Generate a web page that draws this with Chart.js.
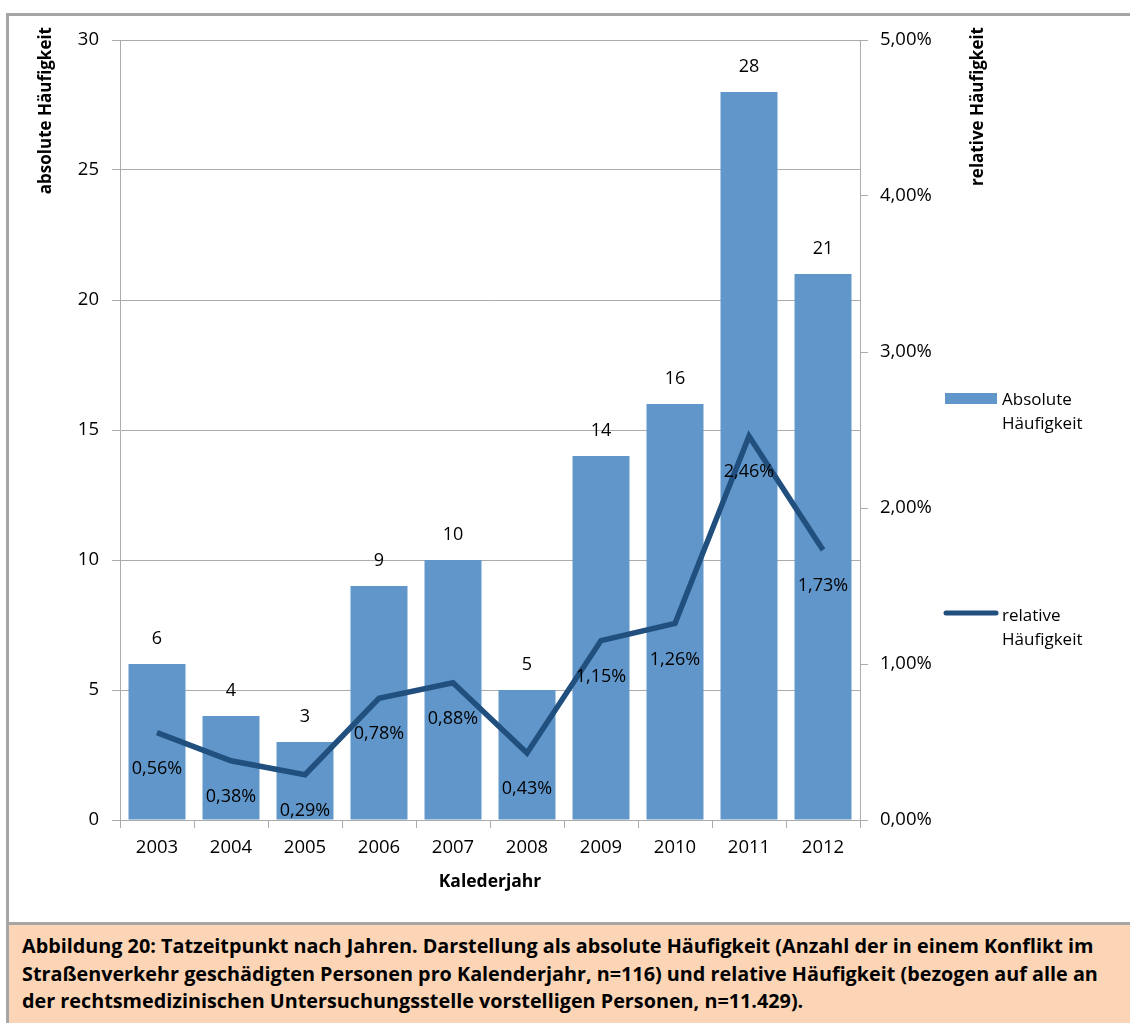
<!DOCTYPE html>
<html lang="de">
<head>
<meta charset="utf-8">
<title>Tatzeitpunkt nach Jahren</title>
<script src="https://cdn.jsdelivr.net/npm/chart.js@4/dist/chart.umd.min.js"></script>
<style>
    body { margin: 0; background: #fff; }
    #rahmen { position: relative; width: 1130px; height: 1023px; overflow: hidden; font-family: "Open Sans", sans-serif; }
    #grafik { position: absolute; left: 0; top: 0; }
    .linie { position: absolute; background: #a6a6a6; }
    #beschriftung {
        position: absolute; left: 9px; top: 925px; width: 1121px; height: 98px;
        background: #fbd5b5; box-sizing: border-box; padding: 7px 0 0 13px;
        font-weight: bold; font-size: 19.8px; line-height: 27.5px; color: #000; white-space: nowrap;
    }
</style>
</head>
<body>
<div id="rahmen">
    <canvas id="grafik" width="1130" height="922"></canvas>
    <div class="linie" style="left:6px; top:13px; width:1124px; height:3px;"></div>
    <div class="linie" style="left:6px; top:13px; width:3px; height:1010px;"></div>
    <div class="linie" style="left:6px; top:922px; width:1124px; height:3px;"></div>
    <div id="beschriftung">
        Abbildung 20: Tatzeitpunkt nach Jahren. Darstellung als absolute Häufigkeit (Anzahl der in einem Konflikt im<br>
        Straßenverkehr geschädigten Personen pro Kalenderjahr, n=116) und relative Häufigkeit (bezogen auf alle an<br>
        der rechtsmedizinischen Untersuchungsstelle vorstelligen Personen, n=11.429).
    </div>
</div>
<script>
// Daten
const jahre = ['2003', '2004', '2005', '2006', '2007', '2008', '2009', '2010', '2011', '2012'];
const absoluteHaeufigkeit = [6, 4, 3, 9, 10, 5, 14, 16, 28, 21];
const relativeHaeufigkeit = [0.56, 0.38, 0.29, 0.78, 0.88, 0.43, 1.15, 1.26, 2.46, 1.73]; // in Prozent
const achsenTitel = ['absolute Häufigkeit', 'relative Häufigkeit', 'Kalederjahr'];
const legendenText = [['Absolute', 'Häufigkeit'], ['relative', 'Häufigkeit']];

const FARBE_BALKEN = '#6096ca';
const FARBE_LINIE = '#214f7e';
const FARBE_GITTER = '#ababab';
const SCHRIFT = '"Open Sans", sans-serif';

function prozent(wert) {
    return wert.toFixed(2).replace('.', ',') + '%';
}

// Werte über den Balken bzw. unter den Linienpunkten
const wertePlugin = {
    id: 'werte',
    afterDatasetsDraw(chart) {
        const ctx = chart.ctx;
        ctx.save();
        ctx.fillStyle = '#000';
        ctx.font = '18px ' + SCHRIFT;
        ctx.textAlign = 'center';
        ctx.textBaseline = 'middle';
        chart.getDatasetMeta(0).data.forEach((el, i) => {
            ctx.fillText(String(absoluteHaeufigkeit[i]), el.x, el.y - 25);
        });
        chart.getDatasetMeta(1).data.forEach((el, i) => {
            ctx.fillText(prozent(relativeHaeufigkeit[i]), el.x, el.y + 36);
        });
        ctx.restore();
    }
};

// Senkrechte Achsentitel (beide von unten nach oben) und Legende rechts
const beiwerkPlugin = {
    id: 'beiwerk',
    afterDraw(chart) {
        const ctx = chart.ctx;
        ctx.save();
        ctx.fillStyle = '#000';
        ctx.font = 'bold 17px ' + SCHRIFT;
        ctx.textAlign = 'right';
        ctx.textBaseline = 'middle';
        [[46, achsenTitel[0]], [978, achsenTitel[1]]].forEach(([x, text]) => {
            ctx.save();
            ctx.translate(x, 27);
            ctx.rotate(-Math.PI / 2);
            ctx.fillText(text, 0, 0);
            ctx.restore();
        });

        // Legende
        ctx.fillStyle = FARBE_BALKEN;
        ctx.fillRect(945, 393, 52, 11);
        ctx.strokeStyle = FARBE_LINIE;
        ctx.lineWidth = 5;
        ctx.lineCap = 'round';
        ctx.beginPath();
        ctx.moveTo(946, 613);
        ctx.lineTo(996, 613);
        ctx.stroke();

        ctx.fillStyle = '#000';
        ctx.font = '17px ' + SCHRIFT;
        ctx.textAlign = 'left';
        ctx.fillText(legendenText[0][0], 1002, 400);
        ctx.fillText(legendenText[0][1], 1002, 424);
        ctx.fillText(legendenText[1][0], 1002, 616);
        ctx.fillText(legendenText[1][1], 1002, 640);
        ctx.restore();
    }
};

function zeichneDiagramm() {
    const ctx = document.getElementById('grafik').getContext('2d');

    new Chart(ctx, {
        type: 'bar',
        data: {
            labels: jahre,
            datasets: [
                {
                    label: 'Absolute Häufigkeit',
                    data: absoluteHaeufigkeit,
                    backgroundColor: FARBE_BALKEN,
                    borderWidth: 0,
                    barPercentage: 0.77,
                    categoryPercentage: 1,
                    yAxisID: 'y',
                    order: 1
                },
                {
                    type: 'line',
                    label: 'relative Häufigkeit',
                    data: relativeHaeufigkeit,
                    borderColor: FARBE_LINIE,
                    borderWidth: 5.5,
                    pointRadius: 0,
                    tension: 0,
                    yAxisID: 'y1',
                    order: 0
                }
            ]
        },
        options: {
            responsive: false,
            animation: false,
            layout: {
                padding: { left: 70, right: 170, top: 40, bottom: 22 }
            },
            plugins: {
                legend: { display: false },
                tooltip: { enabled: false }
            },
            scales: {
                x: {
                    afterFit: (scale) => { scale.height = 80; },
                    grid: {
                        offset: true,
                        drawOnChartArea: false,
                        color: FARBE_GITTER,
                        tickLength: 8
                    },
                    border: { color: FARBE_GITTER },
                    ticks: {
                        color: '#000',
                        padding: 9,
                        font: { family: SCHRIFT, size: 18.5 }
                    },
                    title: {
                        display: true,
                        text: achsenTitel[2],
                        color: '#000',
                        padding: { top: 0, bottom: 7 },
                        font: { family: SCHRIFT, size: 17.5, weight: 'bold' }
                    }
                },
                y: {
                    position: 'left',
                    min: 0,
                    max: 30,
                    afterFit: (scale) => { scale.width = 50; },
                    grid: { color: FARBE_GITTER, tickLength: 8 },
                    border: { color: FARBE_GITTER },
                    ticks: {
                        stepSize: 5,
                        color: '#000',
                        padding: 13,
                        font: { family: SCHRIFT, size: 18.5 }
                    }
                },
                y1: {
                    position: 'right',
                    min: 0,
                    max: 5,
                    afterFit: (scale) => { scale.width = 100; },
                    grid: { drawOnChartArea: false, color: FARBE_GITTER, tickLength: 8 },
                    border: { color: FARBE_GITTER },
                    ticks: {
                        stepSize: 1,
                        color: '#000',
                        padding: 12,
                        font: { family: SCHRIFT, size: 18.5 },
                        callback: (wert) => prozent(wert)
                    }
                }
            }
        },
        plugins: [wertePlugin, beiwerkPlugin]
    });
}

zeichneDiagramm();
</script>
</body>
</html>
